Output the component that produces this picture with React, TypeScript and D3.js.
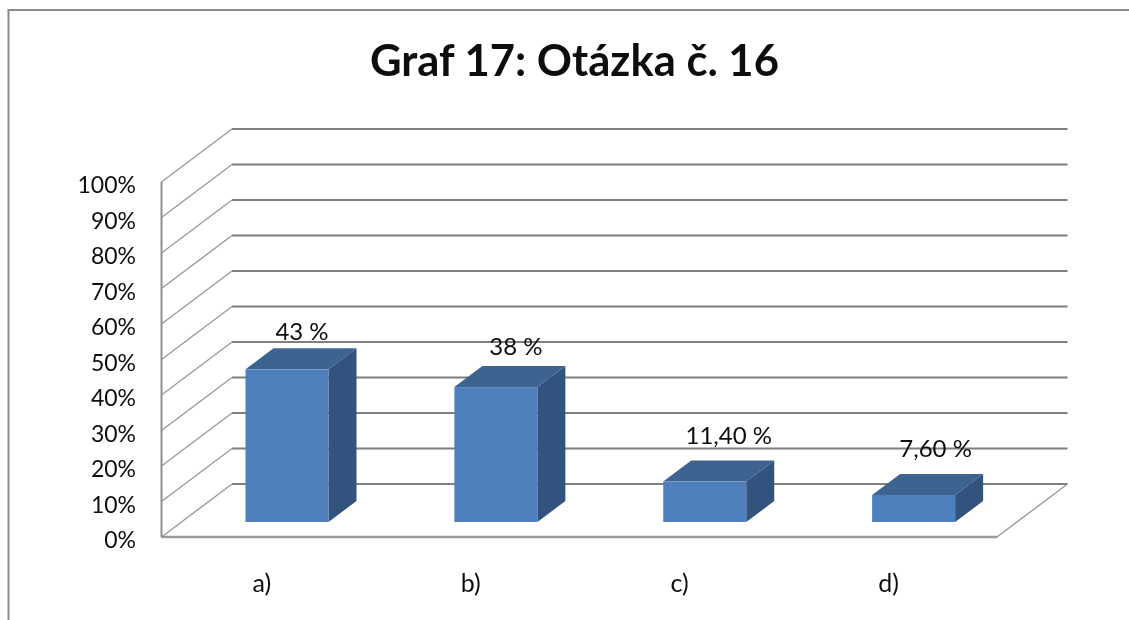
import React from "react";
import * as d3 from "d3";

const categories = ["a)", "b)", "c)", "d)"];
const values = [43, 38, 11.4, 7.6];
const valueLabels = ["43 %", "38 %", "11,40 %", "7,60 %"];
const yTicks = [0, 10, 20, 30, 40, 50, 60, 70, 80, 90, 100];
const titleText = "Graf 17: Otázka č. 16";

const labelDx = [15, 20, 24, 22];
const labelDy = [-8, -11, -17, -17];
const FONT = "Lato, Carlito, Calibri, sans-serif";

export default function App() {
  const x = d3.scaleBand<string>().domain(categories).range([161.5, 997]);
  const y = d3.scaleLinear().domain([0, 100]).range([537, 182]);
  const depthX = 70.5;
  const depthY = -53;
  const barInset = 84;
  const barDepth = 28;
  const barDepthY = -21;
  const barW = 83;
  const baseY = 522;
  const gridColor = "#7f7f7f";
  const wallColor = "#9a9a9a";

  const poly = (pts: [number, number][]) => d3.line()(pts) + "Z";

  return (
    <svg
      width={1129}
      height={620}
      viewBox="0 0 1129 620"
      style={{ position: "absolute", left: 0, top: 0, background: "#fff" }}
    >
      <defs>
        <filter id="soft" x="-5%" y="-5%" width="110%" height="110%">
          <feGaussianBlur stdDeviation="0.45" />
        </filter>
      </defs>
      <g filter="url(#soft)">
        {/* outer frame */}
        <path d="M8.5,620V10H1129" fill="none" stroke="#8a8a8a" strokeWidth={2} />

        {/* back wall gridlines and side wall diagonals */}
        {yTicks.map((t) => (
          <g key={t}>
            <line
              x1={161.5 + depthX}
              x2={997 + depthX}
              y1={y(t) + depthY}
              y2={y(t) + depthY}
              stroke={gridColor}
              strokeWidth={1.8}
            />
            <line
              x1={161.5}
              x2={161.5 + depthX}
              y1={y(t)}
              y2={y(t) + depthY}
              stroke={wallColor}
              strokeWidth={1.4}
            />
          </g>
        ))}
        {/* floor */}
        <line x1={997} x2={997 + depthX} y1={y(0)} y2={y(0) + depthY} stroke={wallColor} strokeWidth={1.4} />
        <line x1={161.5} x2={997} y1={y(0)} y2={y(0)} stroke="#9a9a9a" strokeWidth={2.4} />
        <line x1={161.5} x2={161.5} y1={y(100)} y2={y(0)} stroke="#8f8f8f" strokeWidth={2} />

        {/* bars */}
        {categories.map((c, i) => {
          const left = x(c)! + barInset;
          const right = left + barW;
          const h = y(0) - y(values[i]);
          const top = baseY - h;
          return (
            <g key={c}>
              <path
                d={poly([
                  [left, top],
                  [left + barDepth, top + barDepthY],
                  [right + barDepth, top + barDepthY],
                  [right, top],
                ])}
                fill="#3d6391"
              />
              <path
                d={poly([
                  [right, top],
                  [right + barDepth, top + barDepthY],
                  [right + barDepth, baseY + barDepthY],
                  [right, baseY],
                ])}
                fill="#33537e"
              />
              <rect x={left} y={top} width={barW} height={h} fill="#4f7fbc" />
              <text
                x={left + barW / 2 + labelDx[i]}
                y={top + barDepthY + labelDy[i]}
                textAnchor="middle"
                fontFamily={FONT}
                fontSize={24}
                fill="#111"
              >
                {valueLabels[i]}
              </text>
              <text
                x={x(c)! + x.bandwidth() / 2 - 4}
                y={592}
                textAnchor="middle"
                fontFamily={FONT}
                fontSize={25}
                fill="#111"
              >
                {c}
              </text>
            </g>
          );
        })}

        {/* y axis labels */}
        {yTicks.map((t) => (
          <text
            key={t}
            x={136}
            y={y(t) + 11}
            textAnchor="end"
            fontFamily={FONT}
            fontSize={23}
            fill="#111"
          >
            {t}%
          </text>
        ))}

        {/* title */}
        <text
          x={574.5}
          y={76}
          textAnchor="middle"
          fontFamily={FONT}
          fontWeight={700}
          fontSize={43.6}
          fill="#111"
        >
          {titleText}
        </text>
      </g>
    </svg>
  );
}
